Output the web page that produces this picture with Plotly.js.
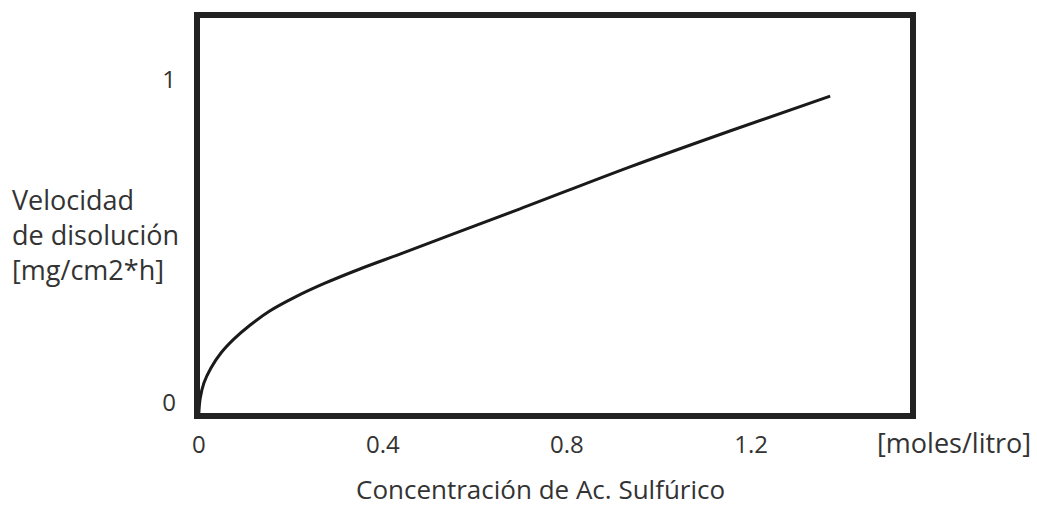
<!DOCTYPE html>
<html>
<head>
<meta charset="utf-8">
<script src="https://cdn.plot.ly/plotly-3.0.1.min.js"></script>
<style>html,body{margin:0;padding:0;background:#fff;}#chart{width:1037px;height:508px;}</style>
</head>
<body>
<div id="chart"></div>
<script>
// Data
const concentration = [0, 0.003, 0.011, 0.026, 0.048, 0.076, 0.111, 0.154, 0.209, 0.274, 0.350, 0.437, 0.546, 0.698, 0.937, 1.154, 1.372];
const velocity      = [0, 0.046, 0.093, 0.139, 0.186, 0.229, 0.272, 0.316, 0.359, 0.402, 0.446, 0.492, 0.551, 0.632, 0.762, 0.873, 0.981];
const xTickVals = [0, 0.4, 0.8, 1.2];
const xTickText = ['0', '0.4', '0.8', '1.2'];
const yTickVals = [0, 1];
const yTickText = ['0', '1'];
const xUnit = '[moles/litro]';
const xTitle = 'Concentración de Ac. Sulfúrico';
const yTitle = 'Velocidad<br>de disolución<br>[mg/cm2*h]';

const FONT = 'Open Sans, Noto Sans, sans-serif';
const TXT = '#333333';
const FS = 27;
const TFS = 24;

const trace = {
  x: concentration, y: velocity, type: 'scatter', mode: 'lines',
  line: {color: '#1a1a1a', width: 3, shape: 'spline', smoothing: 1},
  hoverinfo: 'skip'
};

const layout = {
  width: 1037, height: 508,
  margin: {l: 197, r: 124, t: 15, b: 92},
  paper_bgcolor: '#ffffff', plot_bgcolor: '#ffffff',
  showlegend: false,
  font: {family: FONT, size: FS, color: TXT},
  xaxis: {
    range: [-0.004, 1.552], tickvals: xTickVals, ticktext: xTickText,
    showgrid: false, zeroline: false, showline: false, ticks: '',
    ticklabelstandoff: 12,
    tickfont: {family: FONT, size: TFS, color: TXT}
  },
  yaxis: {
    range: [-0.009, 1.232], tickvals: yTickVals, ticktext: yTickText,
    showgrid: false, zeroline: false, showline: false, ticks: '',
    ticklabelstandoff: 20, ticklabelshift: -10,
    tickfont: {family: FONT, size: TFS, color: TXT}
  },
  shapes: [{
    type: 'rect', xref: 'paper', yref: 'paper', x0: 0, x1: 1, y0: 0, y1: 1,
    line: {color: '#222222', width: 6}, fillcolor: 'rgba(0,0,0,0)', layer: 'above'
  }],
  annotations: [
    {text: xUnit, xref: 'paper', yref: 'paper', x: (954 - 197) / 716, y: (416 - 443) / 401,
     xanchor: 'center', yanchor: 'middle', showarrow: false, font: {family: FONT, size: FS, color: TXT}},
    {text: xTitle, xref: 'paper', yref: 'paper', x: (540 - 197) / 716, y: (416 - 489) / 401,
     xanchor: 'center', yanchor: 'middle', showarrow: false, font: {family: FONT, size: 26, color: TXT}},
    {text: yTitle, xref: 'paper', yref: 'paper', x: (10 - 197) / 716, y: (416 - 234) / 401,
     xanchor: 'left', yanchor: 'middle', align: 'left', showarrow: false,
     font: {family: FONT, size: FS, color: TXT}}
  ]
};

Plotly.newPlot('chart', [trace], layout, {displayModeBar: false, staticPlot: true});
</script>
</body>
</html>
